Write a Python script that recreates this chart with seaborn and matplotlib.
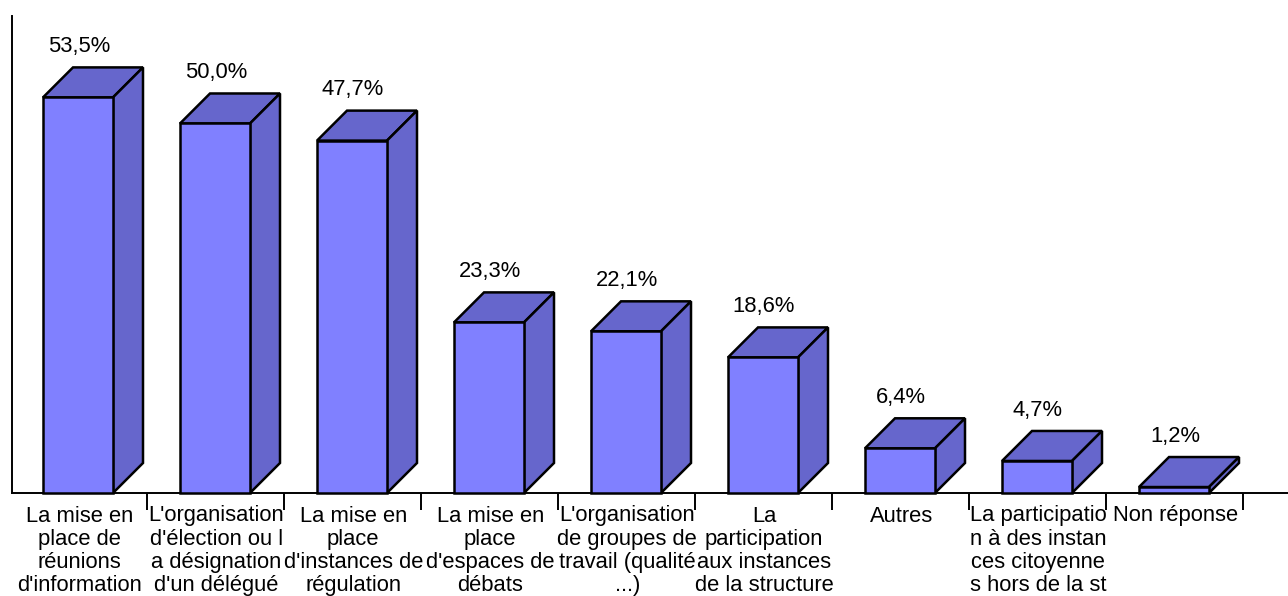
"""Recreates the 3D looking bar chart with seaborn bars plus drawn faces."""

import matplotlib
matplotlib.use("Agg")
import matplotlib.pyplot as plt
from matplotlib.patches import Polygon
from matplotlib.transforms import ScaledTranslation
import seaborn as sns

categories = [
    "La mise en\nplace de\nréunions\nd'information",
    "L'organisation\nd'élection ou l\na désignation\nd'un délégué",
    "La mise en\nplace\nd'instances de\nrégulation",
    "La mise en\nplace\nd'espaces de\ndébats",
    "L'organisation\nde groupes de\ntravail (qualité\n...)",
    "La\nparticipation\naux instances\nde la structure",
    "Autres",
    "La participatio\nn à des instan\nces citoyenne\ns hors de la st",
    "Non réponse",
]
values = [53.5, 50.0, 47.7, 23.3, 22.1, 18.6, 6.4, 4.7, 1.2]
value_labels = ["53,5%", "50,0%", "47,7%", "23,3%", "22,1%", "18,6%", "6,4%", "4,7%", "1,2%"]

FRONT = "#8080FF"
SHADE = "#6666CC"
W, H = 1288, 596
BASE_Y = 493        # baseline in pixels from the top
STEP = 137          # pixels between categories
PX_PER_UNIT = 7.45  # pixels per percent
Y_FLOOR = 0.4       # value axis does not start exactly at zero in the source
DEPTH_X = 30 / STEP
DEPTH_Y = 30 / PX_PER_UNIT
FONT_SIZE = 15.8
LINE_W = 1.8

sns.set_theme(style="white")
plt.rcParams["font.family"] = ["Liberation Sans", "DejaVu Sans"]

fig = plt.figure(figsize=(W / 100, H / 100), dpi=100)
ax = fig.add_axes([12 / W, 1 - BASE_Y / H, (W - 12) / W, (BASE_Y - 16) / H])

sns.barplot(x=categories, y=values, color=FRONT, saturation=1, width=70 / STEP,
            edgecolor="black", linewidth=LINE_W, ax=ax, zorder=3)

for bar in ax.patches[:len(values)]:
    top = bar.get_height()
    bar.set_y(Y_FLOOR)
    bar.set_height(top - Y_FLOOR)
    bar.set_clip_on(False)
    bar.set_joinstyle("miter")
    x0, x1 = bar.get_x(), bar.get_x() + bar.get_width()
    top_face = [(x0, top), (x1, top), (x1 + DEPTH_X, top + DEPTH_Y), (x0 + DEPTH_X, top + DEPTH_Y)]
    side_face = [(x1, Y_FLOOR), (x1 + DEPTH_X, Y_FLOOR + DEPTH_Y),
                 (x1 + DEPTH_X, top + DEPTH_Y), (x1, top)]
    for face in (top_face, side_face):
        ax.add_patch(Polygon(face, closed=True, facecolor=SHADE, edgecolor="black",
                             linewidth=LINE_W, joinstyle="miter", zorder=2, clip_on=False))

for i, (v, txt) in enumerate(zip(values, value_labels)):
    ax.annotate(txt, (i, v), xytext=(0.7, 36.5), textcoords="offset points",
                ha="center", va="center", fontsize=FONT_SIZE, color="black")

ax.set_xlim((12 - 78) / STEP, (W - 78) / STEP)
ax.set_ylim(Y_FLOOR, Y_FLOOR + (BASE_Y - 16) / PX_PER_UNIT)
ax.set_yticks([])
ax.set_xlabel("")
ax.set_ylabel("")
ax.set_xticks([i + 0.5 for i in range(len(values))], minor=True)
ax.tick_params(axis="x", which="minor", length=12.5, width=1.4, color="black", bottom=True)
ax.tick_params(axis="x", which="major", length=0, pad=9, labelsize=FONT_SIZE, labelcolor="black")
shift = ScaledTranslation(1.2 / 100, 0, fig.dpi_scale_trans)
for lab in ax.get_xticklabels():
    lab.set_linespacing(1.14)
    lab.set_transform(lab.get_transform() + shift)

sns.despine(ax=ax, top=True, right=True)
for side in ("left", "bottom"):
    ax.spines[side].set_color("black")
    ax.spines[side].set_linewidth(1.4)
    ax.spines[side].set_zorder(1)

fig.savefig("out.png", dpi=100, facecolor="white")
plt.close(fig)
